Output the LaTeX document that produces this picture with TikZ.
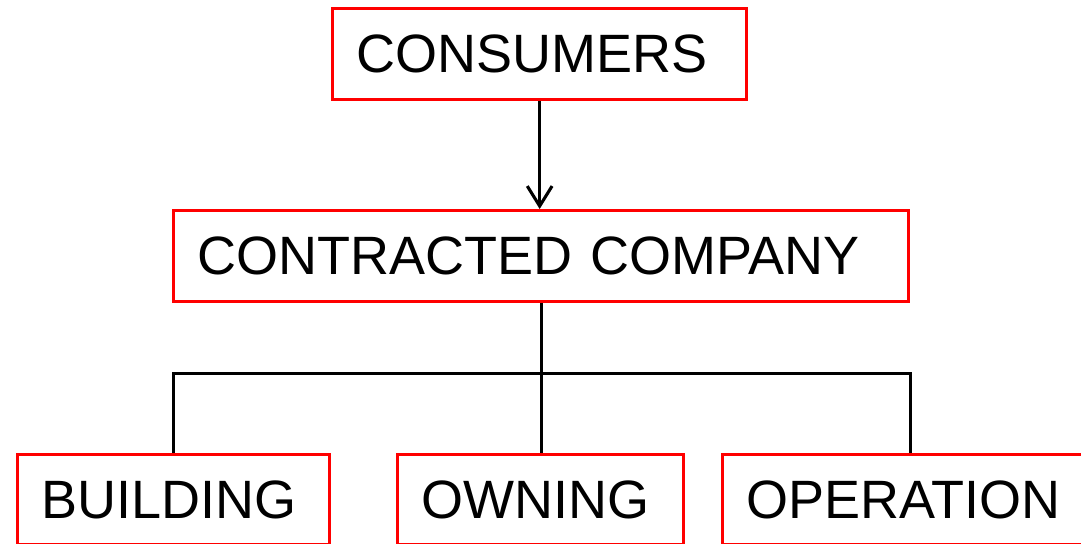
\documentclass[tikz,border=0pt]{standalone}
\usepackage{fontspec}
\setmainfont{Liberation Sans}
\usetikzlibrary{calc,arrows.meta}
\tikzset{>={Straight Barb[length=0.5cm,width=0.62cm]}}
\tikzset{
  box/.style={draw=red,line width=2.3pt,anchor=north west,
    minimum height=2.28cm,inner xsep=0.6cm,inner ysep=0pt,
    align=left,font=\fontsize{38.4}{40}\selectfont},
  link/.style={line width=2.2pt}
}

\begin{document}
\begin{tikzpicture}[x=0.025cm,y=-0.025cm]

\useasboundingbox (0,0) rectangle (1081,544);

% Top box
\node[box,text width=9.15cm] (cons) at (331,7) {CONSUMERS};

% Middle box
\node[box,text width=17.17cm] (cc) at (172,209) {CONTRACTED COMPANY};

% Bottom boxes
\node[box,text width=6.6cm,minimum height=2.25cm] (build) at (16,453) {BUILDING};
\node[box,text width=5.95cm,minimum height=2.25cm] (own) at (396,453) {OWNING};
\node[box,text width=7.85cm,minimum height=2.25cm] (oper) at (721,453) {OPERATION};

% Branch points
\coordinate (fork) at ($(cc.south)+(0,70)$);
\coordinate (opertop) at (cc.south east |- oper.north);

\draw[link,->] (cons.south) -- (cons.south |- cc.north);
\draw[link] (cc.south) -- (fork);
\draw[link] (build.north) |- (fork) -| (opertop);
\draw[link] (fork) -- (fork |- own.north);

\end{tikzpicture}
\end{document}
